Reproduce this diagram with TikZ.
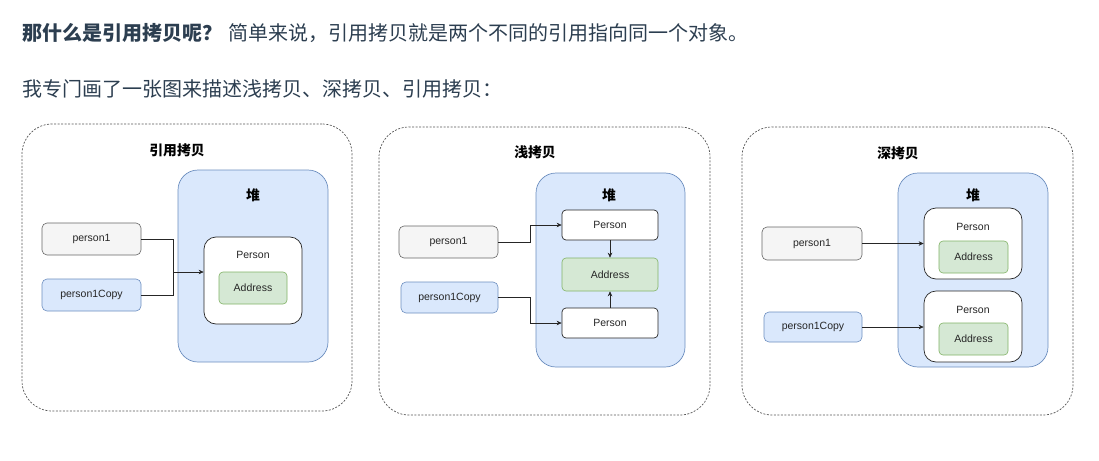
\documentclass[tikz,border=0pt]{standalone}
\usepackage{fontspec}
\setmainfont{Liberation Sans}
\newfontfamily\cjk{Noto Sans CJK SC}
\usetikzlibrary{arrows.meta}
\definecolor{txt}{HTML}{2C3E50}
\definecolor{heapfill}{HTML}{DAE8FC}
\definecolor{heapdraw}{HTML}{6C8EBF}
\definecolor{grayfill}{HTML}{F5F5F5}
\definecolor{graydraw}{HTML}{666666}
\definecolor{greenfill}{HTML}{D5E8D4}
\definecolor{greendraw}{HTML}{82B366}
\definecolor{panelline}{HTML}{555555}
\tikzset{
  panel/.style={draw=panelline, line width=0.7pt, dash pattern=on 2pt off 1.5pt, rounded corners=30pt, inner sep=0pt},
  heap/.style={draw=heapdraw, fill=heapfill, line width=0.7pt, rounded corners=20pt, inner sep=0pt},
  varg/.style={draw=graydraw, fill=grayfill, line width=0.6pt, rounded corners=5pt, inner sep=0pt, font=\fontsize{10.5}{12}\selectfont, text=black!85},
  varb/.style={draw=heapdraw, fill=heapfill, line width=0.6pt, rounded corners=5pt, inner sep=0pt, font=\fontsize{10.5}{12}\selectfont, text=black!85},
  objbig/.style={draw=black!85, fill=white, line width=0.7pt, rounded corners=12pt, inner sep=0pt},
  objsmall/.style={draw=black!85, fill=white, line width=0.7pt, rounded corners=4pt, inner sep=0pt, font=\fontsize{10.5}{12}\selectfont, text=black!85},
  addr/.style={draw=greendraw, fill=greenfill, line width=0.6pt, rounded corners=4pt, inner sep=0pt, font=\fontsize{10.5}{12}\selectfont, text=black!85},
  lbl/.style={inner sep=0pt, font=\fontsize{10.5}{12}\selectfont, text=black!85},
  ttl/.style={inner sep=0pt, font=\cjk\bfseries\fontsize{13.8}{15}\selectfont},
  arr/.style={draw=black!85, line width=0.6pt, -{Stealth[length=5pt,width=4.5pt]}},
  line/.style={draw=black!85, line width=0.6pt},
  toptext/.style={inner sep=0pt, text=txt, anchor=west, font=\cjk\fontsize{20}{22}\selectfont}
}
\begin{document}
\begin{tikzpicture}[x=1pt,y=-1pt]
\useasboundingbox (0,0) rectangle (1099,460);
% top text
\node[toptext, font=\cjk\bfseries\fontsize{20}{22}\selectfont] (q) at (22,33) {那什么是引用拷贝呢？};
\node[toptext] (a) at (228,33) {简单来说，引用拷贝就是两个不同的引用指向同一个对象。};
\node[toptext] (b) at (22,89) {我专门画了一张图来描述浅拷贝、深拷贝、引用拷贝：};

% ---------- panel 1 ----------
\node[panel, minimum width=330pt, minimum height=287pt] (d1) at (187,267.5) {};
\node[ttl] (t1) at (177,150) {引用拷贝};
\node[heap, minimum width=150pt, minimum height=192pt] (h1) at (253,266) {};
\node[ttl] (ht1) at (253,195) {堆};
\node[varg, minimum width=99pt, minimum height=32pt] (p1a) at (91.5,239) {person1};
\node[varb, minimum width=99pt, minimum height=32pt] (p1c) at (91.5,295) {person1Copy};
\node[objbig, minimum width=98pt, minimum height=87pt] (P1) at (253,280.5) {};
\node[lbl] (P1l) at (253,255) {Person};
\node[addr, minimum width=68pt, minimum height=32pt] (A1) at (253,288) {Address};
\coordinate (j1) at (173,272);
\draw[line] (p1a.east) -| (j1);
\draw[line] (p1c.east) -| (j1);
\draw[arr] (j1) -- (j1 -| P1.west);

% ---------- panel 2 ----------
\node[panel, minimum width=331pt, minimum height=288pt] (d2) at (544.5,271) {};
\node[ttl] (t2) at (535,152) {浅拷贝};
\node[heap, minimum width=149pt, minimum height=194pt] (h2) at (610.5,270) {};
\node[ttl] (ht2) at (609,195) {堆};
\node[objsmall, minimum width=96pt, minimum height=30pt] (P2a) at (610,225) {Person};
\node[addr, minimum width=96pt, minimum height=33pt] (A2) at (610,274.5) {Address};
\node[objsmall, minimum width=96pt, minimum height=30pt] (P2b) at (610,323) {Person};
\node[varg, minimum width=99pt, minimum height=32pt] (p2a) at (448.5,242) {person1};
\node[varb, minimum width=97pt, minimum height=31pt] (p2c) at (449.5,297.5) {person1Copy};
\draw[arr] (p2a.east) -- ++(32,0) |- (P2a.west);
\draw[arr] (p2c.east) -- ++(32,0) |- (P2b.west);
\draw[arr] (P2a.south) -- (A2.north);
\draw[arr] (P2b.north) -- (A2.south);

% ---------- panel 3 ----------
\node[panel, minimum width=331pt, minimum height=288pt] (d3) at (907.5,271) {};
\node[ttl] (t3) at (898,153) {深拷贝};
\node[heap, minimum width=150pt, minimum height=194pt] (h3) at (973,270) {};
\node[ttl] (ht3) at (973,195) {堆};
\node[objbig, minimum width=98pt, minimum height=71pt] (P3a) at (973,243.5) {};
\node[lbl] (P3al) at (973,227) {Person};
\node[addr, minimum width=69pt, minimum height=32pt] (A3a) at (973.5,257) {Address};
\node[objbig, minimum width=98pt, minimum height=71pt] (P3b) at (973,326.5) {};
\node[lbl] (P3bl) at (973,310) {Person};
\node[addr, minimum width=69pt, minimum height=32pt] (A3b) at (973.5,339) {Address};
\node[varg, minimum width=100pt, minimum height=33pt] (p3a) at (812,243.5) {person1};
\node[varb, minimum width=98pt, minimum height=30pt] (p3c) at (813,327) {person1Copy};
\draw[arr] (p3a.east) -- (p3a.east -| P3a.west);
\draw[arr] (p3c.east) -- (p3c.east -| P3b.west);
\end{tikzpicture}
\end{document}
